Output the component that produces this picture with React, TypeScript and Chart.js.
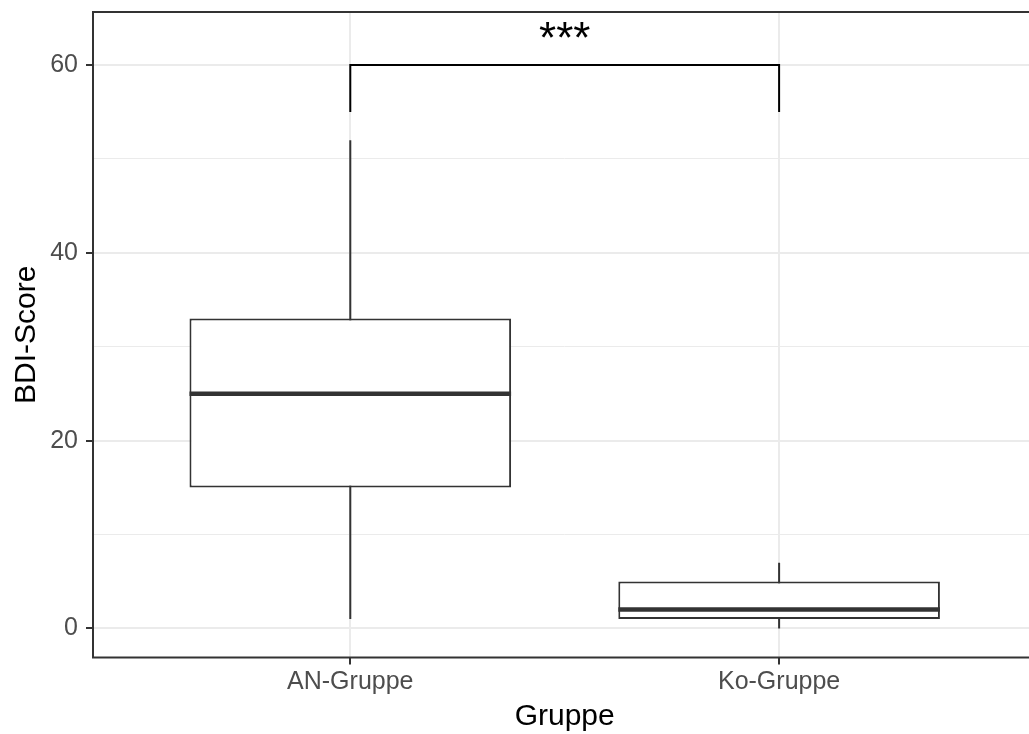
import React, { useEffect, useRef } from 'react';
import { Chart, registerables } from 'chart.js';

Chart.register(...registerables);

// Box-plot summary per group
const GROUPS = ['AN-Gruppe', 'Ko-Gruppe'];
const WHISKER_LOW = [1, 0];
const Q1 = [15, 1];
const MEDIAN = [25, 2];
const Q3 = [33, 5];
const WHISKER_HIGH = [52, 7];

// Y axis ticks (labelled majors, unlabelled minors)
const Y_TICKS = [0, 10, 20, 30, 40, 50, 60];
const Y_LABELED = [0, 20, 40, 60];

// Significance bracket between the two groups
const SIG_FROM = 1;
const SIG_TO = 2;
const SIG_Y = 60;
const SIG_TIP = 55;
const SIG_LABEL = '***';

const BOX_WIDTH = 0.75;
const FONT = '"Liberation Sans", Arial, Helvetica, sans-serif';
const INK = '#333333';
const GRID = '#EBEBEB';

const panelPlugin = {
  id: 'panelFrame',
  afterDatasetsDraw(chart: any) {
    const { ctx, chartArea, scales } = chart;
    const { left, top, right, bottom } = chartArea;
    const xs = scales.x;
    const ys = scales.y;
    ctx.save();
    ctx.fillStyle = '#000000';
    ctx.font = `44px ${FONT}`;
    ctx.textAlign = 'center';
    ctx.textBaseline = 'alphabetic';
    ctx.fillText(
      SIG_LABEL,
      xs.getPixelForValue((SIG_FROM + SIG_TO) / 2),
      ys.getPixelForValue(SIG_Y) - 12
    );
    ctx.strokeStyle = INK;
    ctx.lineWidth = 2;
    ctx.strokeRect(left, top, right - left, bottom - top);
    ctx.restore();
  },
};

export default function App() {
  const canvasRef = useRef<HTMLCanvasElement | null>(null);

  useEffect(() => {
    const canvas = canvasRef.current;
    if (!canvas) return;

    const boxes = {
      type: 'bar' as const,
      data: GROUPS.map((_, i) => ({ x: i + 1, y: [Q1[i], Q3[i]] })),
      backgroundColor: '#FFFFFF',
      borderColor: INK,
      borderWidth: 2,
      borderSkipped: false,
      barPercentage: BOX_WIDTH,
      categoryPercentage: 1,
      order: 2,
    };

    const whiskers = GROUPS.map((_, i) => ({
      type: 'line' as const,
      data: [
        { x: i + 1, y: WHISKER_LOW[i] },
        { x: i + 1, y: WHISKER_HIGH[i] },
      ],
      borderColor: INK,
      borderWidth: 2,
      pointRadius: 0,
      tension: 0,
      order: 3,
    }));

    const medians = GROUPS.map((_, i) => ({
      type: 'line' as const,
      data: [
        { x: i + 1 - BOX_WIDTH / 2, y: MEDIAN[i] },
        { x: i + 1 + BOX_WIDTH / 2, y: MEDIAN[i] },
      ],
      borderColor: INK,
      borderWidth: 4.5,
      borderCapStyle: 'butt',
      pointRadius: 0,
      tension: 0,
      order: 1,
    }));

    const bracket = {
      type: 'line' as const,
      data: [
        { x: SIG_FROM, y: SIG_TIP },
        { x: SIG_FROM, y: SIG_Y },
        { x: SIG_TO, y: SIG_Y },
        { x: SIG_TO, y: SIG_TIP },
      ],
      borderColor: '#000000',
      borderWidth: 2,
      pointRadius: 0,
      tension: 0,
      order: 0,
    };

    const chart = new Chart(canvas, {
      type: 'bar',
      data: { datasets: [boxes, ...whiskers, ...medians, bracket] as any },
      options: {
        responsive: false,
        animation: false,
        events: [],
        layout: { padding: { left: 0, top: 12, right: 8.6, bottom: 0 } },
        plugins: {
          legend: { display: false },
          tooltip: { enabled: false },
        },
        scales: {
          x: {
            type: 'linear',
            min: 0.4,
            max: 2.6,
            offset: false,
            afterBuildTicks: (s: any) => {
              s.ticks = GROUPS.map((_, i) => ({ value: i + 1 }));
            },
            afterFit: (s: any) => {
              s.height = 76.5;
              s.paddingLeft = 0;
              s.paddingRight = 0;
            },
            ticks: {
              callback: (v: any) => GROUPS[Number(v) - 1] ?? '',
              font: { family: FONT, size: 25 },
              color: '#4D4D4D',
              padding: 3,
              maxRotation: 0,
              autoSkip: false,
            },
            grid: {
              offset: false,
              color: GRID,
              lineWidth: 2,
              tickColor: INK,
              tickLength: 7,
              tickWidth: 2,
            },
            border: { display: false },
            title: {
              display: true,
              text: 'Gruppe',
              color: '#000000',
              font: { family: FONT, size: 30, lineHeight: 1 },
              padding: { top: 0, bottom: 2 },
            },
          },
          y: {
            type: 'linear',
            min: -3.1,
            max: 65.65,
            afterBuildTicks: (s: any) => {
              s.ticks = Y_TICKS.map((v) => ({ value: v }));
            },
            afterFit: (s: any) => {
              s.width = 93;
              s.paddingTop = 0;
              s.paddingBottom = 0;
            },
            ticks: {
              callback: (v: any) => (Y_LABELED.includes(Number(v)) ? String(v) : ''),
              font: { family: FONT, size: 25 },
              color: '#4D4D4D',
              padding: 8,
            },
            grid: {
              color: GRID,
              lineWidth: (c: any) => (Y_LABELED.includes(c.tick?.value) ? 2 : 1),
              tickColor: (c: any) => (Y_LABELED.includes(c.tick?.value) ? INK : 'rgba(0,0,0,0)'),
              tickLength: 7,
              tickWidth: 2,
            },
            border: { display: false },
            title: {
              display: true,
              text: 'BDI-Score',
              color: '#000000',
              font: { family: FONT, size: 30, lineHeight: 1 },
              padding: { top: 12, bottom: 0 },
            },
          },
        },
      },
      plugins: [panelPlugin],
    });

    return () => chart.destroy();
  }, []);

  return (
    <div
      style={{
        position: 'fixed',
        left: 0,
        top: 0,
        width: 1029,
        height: 734,
        overflow: 'hidden',
        background: '#FFFFFF',
      }}
    >
      <canvas ref={canvasRef} width={1045} height={734} style={{ display: 'block' }} />
    </div>
  );
}
